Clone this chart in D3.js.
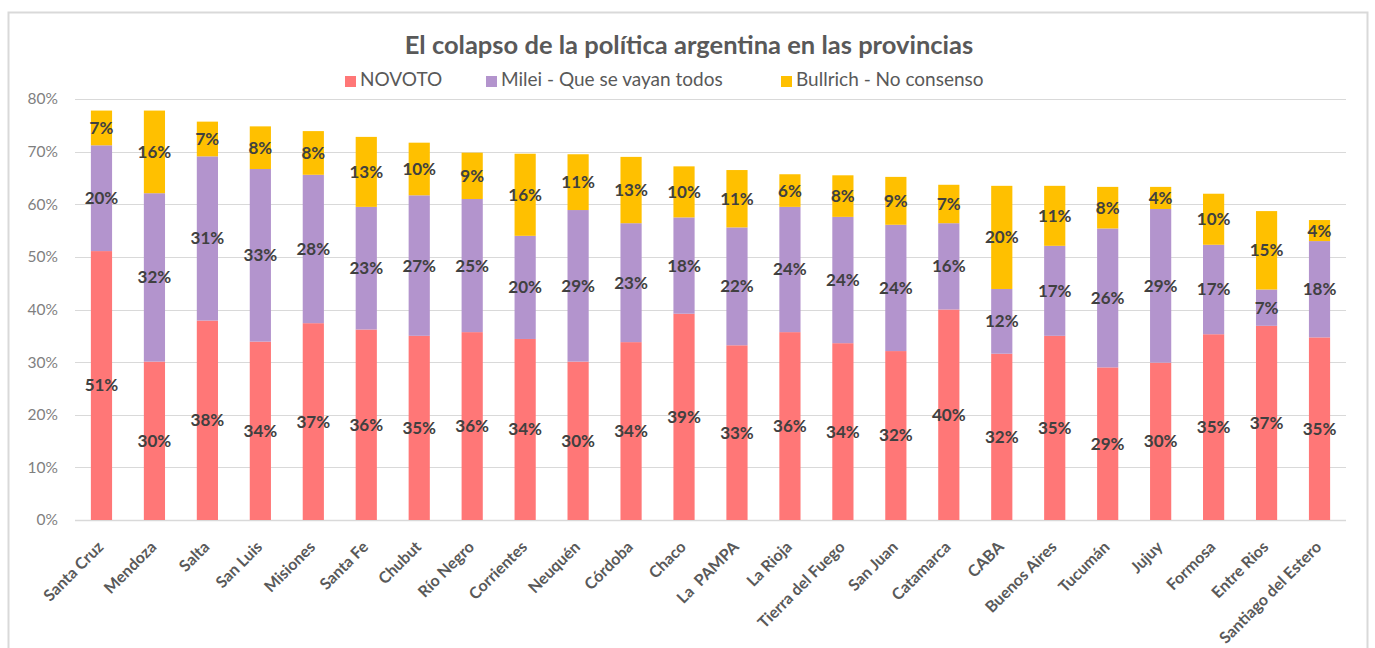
<html lang="es">
<head>
<meta charset="utf-8">
<title>El colapso de la política argentina en las provincias</title>
<style>
  body { margin: 0; background: #fff; font-family: Lato, "Open Sans", sans-serif; }
  svg text { font-family: Lato, "Open Sans", sans-serif; }
</style>
</head>
<body>
<div id="chart"></div>
<script src="https://cdnjs.cloudflare.com/ajax/libs/d3/7.8.5/d3.min.js"></script>
<script>

var provincias = ["Santa Cruz", "Mendoza", "Salta", "San Luis", "Misiones", "Santa Fe", "Chubut",
  "Río Negro", "Corrientes", "Neuquén", "Córdoba", "Chaco", "La  PAMPA", "La Rioja",
  "Tierra del Fuego", "San Juan", "Catamarca", "CABA", "Buenos Aires", "Tucumán", "Jujuy",
  "Formosa", "Entre Rios", "Santiago del Estero"];

var novoto   = [51.1, 30.1, 37.9, 33.9, 37.4, 36.2, 35.0, 35.7, 34.4, 30.1, 33.8, 39.2, 33.2, 35.7,
                33.6, 32.1, 40.0, 31.6, 35.0, 29.0, 29.9, 35.3, 36.9, 34.7];
var milei    = [20.1, 32.0, 31.2, 32.8, 28.2, 23.3, 26.7, 25.3, 19.6, 28.8, 22.6, 18.3, 22.4, 23.8,
                24.0, 24.0, 16.4, 12.3, 17.1, 26.4, 29.2, 17.0, 6.9, 18.3];
var bullrich = [6.6, 15.7, 6.6, 8.1, 8.3, 13.3, 10.0, 8.8, 15.6, 10.6, 12.6, 9.7, 10.9, 6.2,
                7.9, 9.1, 7.3, 19.6, 11.4, 7.9, 4.2, 9.7, 14.9, 4.0];

var series = ["NOVOTO", "Milei - Que se vayan todos", "Bullrich - No consenso"];
var colores = ["#ff7777", "#b394cd", "#ffc000"];
var yTicks = [0, 10, 20, 30, 40, 50, 60, 70, 80];

var W = 1375, H = 648;
var margin = {top: 99, right: 29, bottom: 128, left: 75};
var width = W - margin.left - margin.right;
var height = H - margin.top - margin.bottom;

var svg = d3.select("#chart").append("svg")
  .attr("width", W)
  .attr("height", H);

// marco
svg.append("rect")
  .attr("x", 8.5).attr("y", 12.5)
  .attr("width", 1359).attr("height", 660)
  .attr("fill", "none")
  .attr("stroke", "#d9d9d9")
  .attr("stroke-width", 2);

// titulo
svg.append("text")
  .attr("x", 689).attr("y", 54)
  .attr("text-anchor", "middle")
  .attr("font-size", "25.5px")
  .attr("font-weight", "bold")
  .attr("fill", "#595959")
  .text("El colapso de la política argentina en las provincias");

// leyenda
var legX = [345, 486, 781];
var leg = svg.selectAll("g.leg")
  .data(series)
  .enter().append("g")
  .attr("class", "leg")
  .attr("transform", function(d, i) { return "translate(" + legX[i] + ",86)"; });
leg.append("rect")
  .attr("x", 0).attr("y", -10)
  .attr("width", 11).attr("height", 11)
  .attr("fill", function(d, i) { return colores[i]; });
leg.append("text")
  .attr("x", 15).attr("y", 0)
  .attr("font-size", "19px")
  .attr("fill", "#595959")
  .text(function(d) { return d; });

var g = svg.append("g")
  .attr("transform", "translate(" + margin.left + "," + margin.top + ")");

var x = d3.scaleBand()
  .domain(provincias)
  .range([0, width])
  .paddingInner(0.6)
  .paddingOuter(0.3);

var y = d3.scaleLinear()
  .domain([0, 80])
  .range([height, 0]);

// grilla
g.selectAll("line.grid")
  .data(yTicks)
  .enter().append("line")
  .attr("class", "grid")
  .attr("x1", 0).attr("x2", width)
  .attr("y1", function(d) { return Math.round(y(d)) + 0.5; })
  .attr("y2", function(d) { return Math.round(y(d)) + 0.5; })
  .attr("stroke", "#d9d9d9")
  .attr("stroke-width", function(d) { return d === 0 ? 1.5 : 1.2; });

// eje y
var yAxis = g.append("g")
  .call(d3.axisLeft(y).tickValues(yTicks).tickSize(0).tickPadding(17)
    .tickFormat(function(d) { return d + "%"; }));
yAxis.select(".domain").remove();
yAxis.selectAll("text")
  .attr("font-size", "15.5px")
  .attr("fill", "#7f7f7f");

// barras apiladas
var tabla = provincias.map(function(p, i) {
  return {prov: p, NOVOTO: novoto[i], "Milei - Que se vayan todos": milei[i], "Bullrich - No consenso": bullrich[i]};
});
var stack = d3.stack().keys(series)(tabla);

var capas = g.selectAll("g.capa")
  .data(stack)
  .enter().append("g")
  .attr("class", "capa")
  .attr("fill", function(d, i) { return colores[i]; });

capas.selectAll("rect")
  .data(function(d) { return d; })
  .enter().append("rect")
  .attr("x", function(d) { return x(d.data.prov); })
  .attr("y", function(d) { return y(d[1]); })
  .attr("width", x.bandwidth())
  .attr("height", function(d) { return y(d[0]) - y(d[1]); });

// etiquetas de datos
capas.selectAll("text")
  .data(function(d) { return d; })
  .enter().append("text")
  .attr("x", function(d) { return x(d.data.prov) + x.bandwidth() / 2; })
  .attr("y", function(d) { return (y(d[0]) + y(d[1])) / 2; })
  .attr("dy", "0.35em")
  .attr("text-anchor", "middle")
  .attr("font-size", "17px")
  .attr("font-weight", "bold")
  .attr("fill", "#404040")
  .text(function(d) { return Math.round(d[1] - d[0]) + "%"; });

// eje x
var xAxis = g.append("g")
  .attr("transform", "translate(0," + height + ")")
  .call(d3.axisBottom(x).tickSize(0).tickPadding(0));
xAxis.select(".domain").remove();
xAxis.selectAll("text")
  .attr("font-size", "16px")
  .attr("font-weight", "bold")
  .attr("fill", "#595959")
  .attr("text-anchor", "end")
  .attr("dy", null)
  .style("white-space", "pre")
  .attr("transform", "translate(3,28) rotate(-45)");

</script>
</body>
</html>
